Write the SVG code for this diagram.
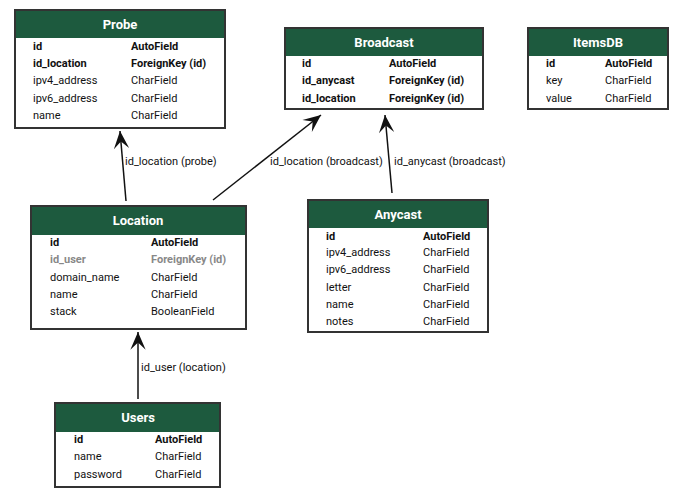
<svg xmlns="http://www.w3.org/2000/svg" width="686" height="497" viewBox="0 0 686 497">
<defs>
<style>
.box{fill:#fff;stroke:#333;stroke-width:2}
.hdr{fill:#1d5a3e}
.title{font-family:Roboto,"Liberation Sans",sans-serif;font-size:13px;font-weight:bold;fill:#fff;text-anchor:middle}
.f{font-family:Roboto,"Liberation Sans",sans-serif;font-size:11px;fill:#111}
.b{font-weight:bold}
.g{fill:#888;font-weight:bold}
.lbl{font-family:Roboto,"Liberation Sans",sans-serif;font-size:11px;fill:#111}
.edge{stroke:#111;stroke-width:1.5;fill:none;marker-end:url(#ah)}
</style>
<marker id="ah" markerUnits="userSpaceOnUse" markerWidth="20" markerHeight="20" viewBox="-16 -8 17 16" refX="0" refY="0" orient="auto">
<path d="M0,0 L-15,-6.5 L-9,0 L-15,6.5 Z" fill="#111"/>
</marker>
</defs>
<g id="connectors">
<line class="edge" x1="126" y1="201" x2="120" y2="131"/>
<text class="lbl" x="125" y="165">id_location (probe)</text>
<line class="edge" x1="213" y1="200" x2="321" y2="115"/>
<text class="lbl" x="270" y="165">id_location (broadcast)</text>
<line class="edge" x1="392" y1="193" x2="385" y2="115"/>
<text class="lbl" x="394" y="165">id_anycast (broadcast)</text>
<line class="edge" x1="138" y1="399" x2="138" y2="332"/>
<text class="lbl" x="141" y="371">id_user (location)</text>
</g>
<g id="Probe">
<rect class="box" x="15" y="10" width="210" height="118"/>
<rect class="hdr" x="16" y="11" width="208" height="27"/>
<text class="title" x="120" y="29">Probe</text>
<text class="f b" x="33" y="50">id</text><text class="f b" x="131" y="50">AutoField</text>
<text class="f b" x="33" y="67">id_location</text><text class="f b" x="131" y="67">ForeignKey (id)</text>
<text class="f" x="33" y="84">ipv4_address</text><text class="f" x="131" y="84">CharField</text>
<text class="f" x="33" y="102">ipv6_address</text><text class="f" x="131" y="102">CharField</text>
<text class="f" x="33" y="119">name</text><text class="f" x="131" y="119">CharField</text>
</g>
<g id="Broadcast">
<rect class="box" x="285" y="28" width="198" height="81"/>
<rect class="hdr" x="286" y="29" width="196" height="27"/>
<text class="title" x="384" y="47">Broadcast</text>
<text class="f b" x="302" y="67">id</text><text class="f b" x="389" y="67">AutoField</text>
<text class="f b" x="302" y="84">id_anycast</text><text class="f b" x="389" y="84">ForeignKey (id)</text>
<text class="f b" x="302" y="102">id_location</text><text class="f b" x="389" y="102">ForeignKey (id)</text>
</g>
<g id="ItemsDB">
<rect class="box" x="528" y="28" width="140" height="81"/>
<rect class="hdr" x="529" y="29" width="138" height="27"/>
<text class="title" x="598" y="47">ItemsDB</text>
<text class="f b" x="546" y="67">id</text><text class="f b" x="605" y="67">AutoField</text>
<text class="f" x="546" y="84">key</text><text class="f" x="605" y="84">CharField</text>
<text class="f" x="546" y="102">value</text><text class="f" x="605" y="102">CharField</text>
</g>
<g id="Location">
<rect class="box" x="31" y="206" width="215" height="123"/>
<rect class="hdr" x="32" y="207" width="213" height="28"/>
<text class="title" x="138" y="225">Location</text>
<text class="f b" x="50" y="246">id</text><text class="f b" x="151" y="246">AutoField</text>
<text class="f g" x="50" y="263">id_user</text><text class="f g" x="151" y="263">ForeignKey (id)</text>
<text class="f" x="50" y="281">domain_name</text><text class="f" x="151" y="281">CharField</text>
<text class="f" x="50" y="298">name</text><text class="f" x="151" y="298">CharField</text>
<text class="f" x="50" y="315">stack</text><text class="f" x="151" y="315">BooleanField</text>
</g>
<g id="Anycast">
<rect class="box" x="308" y="200" width="180" height="132"/>
<rect class="hdr" x="309" y="201" width="178" height="27"/>
<text class="title" x="398" y="219">Anycast</text>
<text class="f b" x="326" y="240">id</text><text class="f b" x="423" y="240">AutoField</text>
<text class="f" x="326" y="256">ipv4_address</text><text class="f" x="423" y="256">CharField</text>
<text class="f" x="326" y="273">ipv6_address</text><text class="f" x="423" y="273">CharField</text>
<text class="f" x="326" y="291">letter</text><text class="f" x="423" y="291">CharField</text>
<text class="f" x="326" y="308">name</text><text class="f" x="423" y="308">CharField</text>
<text class="f" x="326" y="325">notes</text><text class="f" x="423" y="325">CharField</text>
</g>
<g id="Users">
<rect class="box" x="55" y="403" width="165" height="84"/>
<rect class="hdr" x="56" y="404" width="163" height="28"/>
<text class="title" x="138" y="422">Users</text>
<text class="f b" x="74" y="443">id</text><text class="f b" x="155" y="443">AutoField</text>
<text class="f" x="74" y="460">name</text><text class="f" x="155" y="460">CharField</text>
<text class="f" x="74" y="478">password</text><text class="f" x="155" y="478">CharField</text>
</g>
</svg>
